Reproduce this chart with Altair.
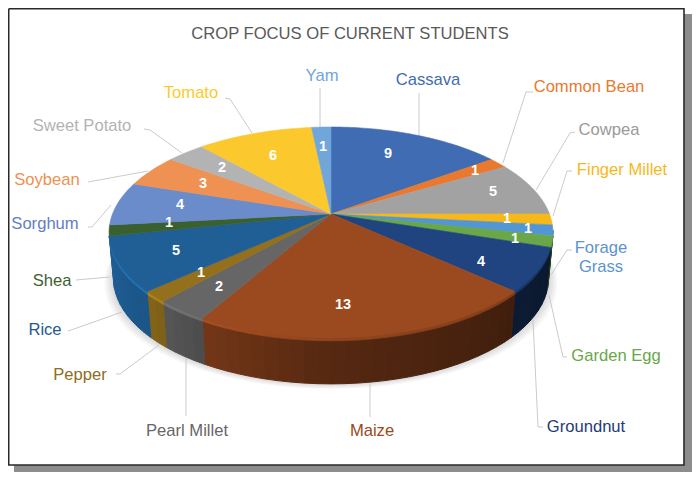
import math
import altair as alt

# ---- data ----
crops = ["Cassava", "Common Bean", "Cowpea", "Finger Millet", "Forage Grass", "Garden Egg",
         "Groundnut", "Maize", "Pearl Millet", "Pepper", "Rice", "Shea", "Sorghum",
         "Soybean", "Sweet Potato", "Tomato", "Yam"]
students = [9, 1, 5, 1, 1, 1, 4, 13, 2, 1, 5, 1, 4, 3, 2, 6, 1]
title_text = "CROP FOCUS OF CURRENT STUDENTS"

# ---- styles ----
top_colors = ["#3f6cb2", "#e8792f", "#a2a2a2", "#f7b81a", "#5297d3", "#69a748",
              "#1f4480", "#9b4a20", "#666666", "#94701c", "#1f5f96", "#3a6030",
              "#6a8ccb", "#ee9152", "#b3b3b3", "#fbc92d", "#70a6da"]
label_colors = ["#3f6cb2", "#e8792f", "#9a9a9a", "#f7b81a", "#5b93d0", "#69a748",
                "#1f3a78", "#9b4a20", "#666666", "#8f6c20", "#1f5a8e", "#3f5f30",
                "#5f80c4", "#ee9152", "#b3b3b3", "#fbc92d", "#70a6da"]

# ---- layout, page pixels ----
OFF = 8          # the page margin
TEXT_DY = 1      # middle baseline sits a little high
CX, CY = 331, 214
RX, RY, K = 218.5, 102.2, 0.175
DEPTH = 46

name_pos = {"Yam": (322, 75), "Cassava": (428, 79), "Common Bean": (589, 86), "Cowpea": (609, 129),
            "Finger Millet": (622, 169), "Garden Egg": (616, 355), "Groundnut": (586, 426),
            "Maize": (372, 430), "Pearl Millet": (187, 430), "Pepper": (80, 374), "Rice": (45, 329),
            "Shea": (52, 280), "Sorghum": (45, 223), "Soybean": (47, 179), "Sweet Potato": (82, 125),
            "Tomato": (191, 92), "Forage": (601, 247), "Grass": (601, 266)}
name_color = dict(zip(crops, label_colors))
name_color["Forage"] = name_color["Grass"] = name_color["Forage Grass"]

value_pos = [(388, 153), (475, 170), (493, 191), (507, 218), (528, 228), (515, 238), (481, 261),
             (343, 304), (219, 286), (201, 272), (176, 250), (169, 222), (180, 204), (203, 183),
             (222, 167), (273, 155), (323, 146)]

leaders = [[(320, 88), (320, 127)], [(419, 93), (419, 135)],
           [(533, 92), (526, 92), (503, 163)], [(575, 132), (570, 133), (536, 190)],
           [(572, 171), (567, 171), (553, 216)], [(572, 250), (567, 250), (551, 275)],
           [(567, 357), (563, 357), (549, 295)], [(543, 427), (538, 427), (533, 320)],
           [(370, 417), (370, 384)], [(186, 416), (186, 358)],
           [(116, 374), (120, 374), (159, 345)], [(68, 331), (74, 329), (122, 312)],
           [(76, 280), (110, 277)], [(88, 227), (92, 227), (111, 205)],
           [(88, 182), (148, 171)], [(144, 129), (150, 130), (182, 153)],
           [(225, 98), (230, 99), (252, 133)]]


def rim(deg):
    a = math.radians(deg)
    d = 1 + K * math.cos(a)
    return CX + RX * math.sin(a) / d, CY - RY * math.cos(a) / d


def lower(deg, extra=DEPTH):
    x, y = rim(deg)
    return CX + (x - CX) * (1 - 0.02 * extra / DEPTH), y + extra


def shade(deg):
    pts = [(0, .35), (120, .38), (180, .55), (210, .75), (228, .9), (258, 1.0), (360, 1.0)]
    for (a0, f0), (a1, f1) in zip(pts, pts[1:]):
        if a0 <= deg <= a1:
            return f0 + (f1 - f0) * (deg - a0) / (a1 - a0)
    return 1.0


def tint(color, f):
    rgb = [int(color[i:i + 2], 16) for i in (1, 3, 5)]
    return "#" + "".join("%02x" % min(255, int(c * f)) for c in rgb)


def page(p):
    return [round(p[0] - OFF, 2), round(p[1] - OFF, 2)]


def poly(points, color, opacity=1.0):
    ring = [page(p) for p in points]
    ring.append(ring[0])
    return {"type": "Feature", "geometry": {"type": "Polygon", "coordinates": [ring]},
            "properties": {"color": color, "opacity": opacity}}


total = sum(students)
edges = [0]
for v in students:
    edges.append(edges[-1] + v * 360 / total)

# backdrop: drop shadow and framed white sheet
backdrop = [poly([(14, 14), (700, 14), (700, 480), (14, 480)], "#8c8d8f"),
            poly([(8.5, 8.5), (684, 8.5), (684, 465), (8.5, 465)], "#ffffff")]

# soft shadow under the pie
soft = []
for e in (9, 7, 5, 3, 1.5):
    ring = [(CX + (lower(d)[0] - CX) * (1 + e / 220), lower(d)[1] + e * .55) for d in range(60, 301, 3)]
    soft.append(poly(ring, "#5a5a5a", 0.05))

# side wall, bevel and top
walls, bevel, tops = [], [], []
for i, col in enumerate(top_colors):
    a0, a1 = edges[i], edges[i + 1]
    n = max(1, int((a1 - a0) / 3))
    steps = [a0 + (a1 - a0) * j / n for j in range(n + 1)]
    for s0, s1 in zip(steps, steps[1:]):
        m = (s0 + s1) / 2
        if 100 < m < 258:
            c = tint(col, shade(m))
            walls.append(poly([rim(s0), rim(s1), lower(s1), lower(s0)], c))
            bevel.append(poly([rim(s0), rim(s1), lower(s1, 3), lower(s0, 3)], tint(col, 0.55 + 0.7 * shade(m))))
    fine = [a0 + (a1 - a0) * j / (n * 3) for j in range(n * 3 + 1)]
    tops.append(poly([(CX, CY)] + [rim(d) for d in fine], col))

lines = [{"type": "Feature",
          "geometry": {"type": "LineString", "coordinates": [page(p) for p in seg]},
          "properties": {"color": "#c4c4c4"}} for seg in leaders]

frame = [{"type": "Feature",
          "geometry": {"type": "LineString",
                       "coordinates": [page(p) for p in [(8.7, 8.7), (684, 8.7), (684, 465), (8.7, 465), (8.7, 8.7)]]},
          "properties": {"color": "#2a2a2a"}}]

projection = dict(type="identity", scale=1, translate=[0, 0])


def shapes(features, stroke=0.6):
    enc = dict(fill=alt.Fill("properties.color:N", scale=None),
               opacity=alt.Opacity("properties.opacity:Q", scale=None))
    if stroke:
        enc["stroke"] = alt.Stroke("properties.color:N", scale=None)
    return (alt.Chart(alt.Data(values=features))
            .mark_geoshape(strokeWidth=stroke)
            .encode(**enc).project(**projection))


def outlines(features, width):
    return (alt.Chart(alt.Data(values=features))
            .mark_geoshape(filled=False, strokeWidth=width)
            .encode(stroke=alt.Stroke("properties.color:N", scale=None)).project(**projection))


def texts(rows, **mark):
    return (alt.Chart(alt.Data(values=rows))
            .mark_text(font="Liberation Sans", baseline="middle", align="center", **mark)
            .encode(longitude="x:Q", latitude="y:Q", text="t:N",
                    fill=alt.Fill("c:N", scale=None)).project(**projection))


def text_rows(items):
    return [{"x": p[0] - OFF, "y": p[1] - OFF + TEXT_DY, "t": t, "c": c} for t, p, c in items]


name_rows = text_rows([(k, p, name_color[k]) for k, p in name_pos.items()])
value_rows = text_rows([(str(v), p, "#ffffff") for p, v in zip(value_pos, students)])
title_rows = text_rows([(title_text, (350, 33), "#595959")])

chart = alt.layer(
    shapes(backdrop, stroke=0),
    outlines(frame, 1.6),
    shapes(soft, stroke=0),
    shapes(walls, stroke=1.0),
    shapes(bevel),
    shapes(tops),
    outlines(lines, 0.9),
    texts(title_rows, fontSize=16.6),
    texts(name_rows, fontSize=16.6),
    texts(value_rows, fontSize=14.5, fontWeight="bold"),
).properties(width=684, height=464, padding=0, autosize=alt.AutoSizeParams(type="none")
).configure_view(stroke=None)

chart.save("out.html", embed_options={"renderer": "svg", "actions": False})
